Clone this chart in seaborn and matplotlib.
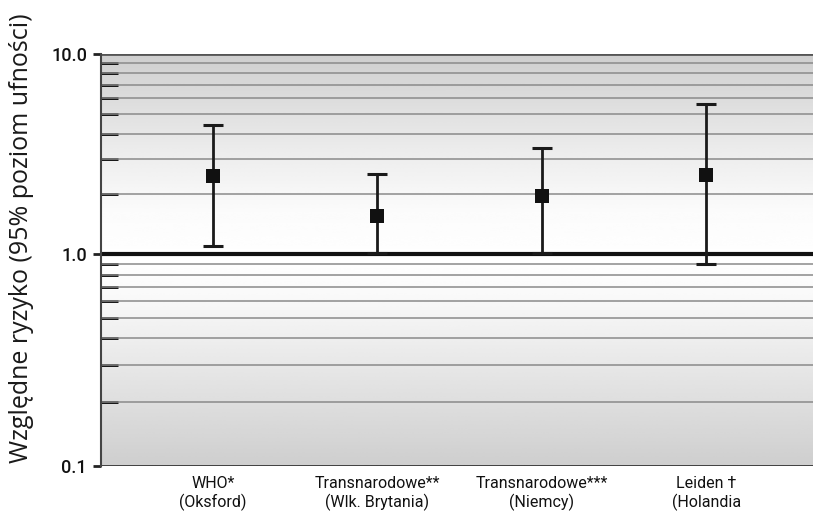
import numpy as np
import pandas as pd
import matplotlib
matplotlib.use("Agg")
import matplotlib.pyplot as plt
import matplotlib.ticker as mticker
import seaborn as sns

# ---- data ----
categories = ["WHO*\n(Oksford)", "Transnarodowe**\n(Wlk. Brytania)",
              "Transnarodowe***\n(Niemcy)", "Leiden \u2020\n(Holandia"]
rr = [2.45, 1.55, 1.95, 2.48]
ci_low = [1.10, 1.01, 1.01, 0.90]
ci_high = [4.40, 2.50, 3.40, 5.60]
y_ticks = [0.1, 1.0, 10.0]
y_ticklabels = ["0.1", "1.0", "10.0"]
y_label = "Względne ryzyko (95% poziom ufności)"

sns.set_theme(style="white")
plt.rcParams['font.family'] = ['Open Sans', 'DejaVu Sans']

fig = plt.figure(figsize=(8.13, 5.17), dpi=100)
ax = fig.add_axes([101/813, 51/517, 712/813, 412/517])

df = pd.DataFrame({"cat": categories, "rr": rr})

# log-type scale (upper decade drawn slightly shorter than lower one, as in the source)
K = 200.0 / 212.0
def fwd(v):
    l = np.log10(np.clip(v, 1e-6, None))
    return np.where(l > 0, l * K, l)
def inv(u):
    u = np.asarray(u, dtype=float)
    return np.where(u > 0, 10 ** (u / K), 10 ** u)
ax.set_yscale('function', functions=(fwd, inv))
ax.set_ylim(0.1, 10)

# gradient background
stops = [(0.0, 0.81), (0.25, 0.91), (0.42, 0.98), (0.5, 1.0), (0.62, 0.985), (0.78, 0.92), (1.0, 0.81)]
fr = np.linspace(0, 1, 400)
vals = np.interp(fr, [s[0] for s in stops], [s[1] for s in stops])
grad = np.repeat(vals[:, None], 2, axis=1)
ax.imshow(grad, extent=[0, 1, 0, 1], transform=ax.transAxes, aspect='auto',
          cmap='gray', vmin=0, vmax=1, origin='lower', zorder=0, interpolation='bicubic')

# grid lines
minor_vals = [m * d for d in (0.1, 1.0) for m in range(2, 10)]
for v in minor_vals:
    ax.axhline(v, color='#8a8a8a', lw=1.1, zorder=1)
ax.axhline(10, color='#555555', lw=2, zorder=2)
ax.axhline(0.1, color='#333333', lw=2, zorder=2)
ax.axhline(1.0, color='#111111', lw=3, zorder=2)

# error bars
x = np.arange(len(categories))
yerr = [np.array(rr) - np.array(ci_low), np.array(ci_high) - np.array(rr)]
ax.errorbar(x, rr, yerr=yerr, fmt='none', ecolor='#1a1a1a', elinewidth=2.0,
            capsize=7, capthick=2.2, zorder=3)
sns.scatterplot(data=df, x="cat", y="rr", marker='s', s=95, color='#111111',
                edgecolor='#111111', linewidth=0, ax=ax, zorder=4)

ax.set_xlim(-0.68, 3.65)
ax.set_ylim(0.1, 10)
ax.set_xlabel("")
ax.set_xticks(x)
ax.set_xticklabels(categories, family=['Roboto', 'DejaVu Sans'],
                   fontsize=11.5, color='#111111', linespacing=1.2)
ax.tick_params(axis='x', length=0, pad=7)

ax.yaxis.set_major_locator(mticker.FixedLocator(y_ticks))
ax.yaxis.set_major_formatter(mticker.FixedFormatter(y_ticklabels))
ax.yaxis.set_minor_locator(mticker.FixedLocator(minor_vals))
ax.yaxis.set_minor_formatter(mticker.NullFormatter())
ax.tick_params(axis='y', which='major', direction='out', length=6, width=2,
               color='#222222', left=True, pad=4, labelcolor='#111111')
ax.tick_params(axis='y', which='minor', direction='in', length=12.5, width=2,
               color='#000000', left=True)
for lbl in ax.get_yticklabels():
    lbl.set_family(['Roboto', 'DejaVu Sans'])
    lbl.set_fontweight('medium')
    lbl.set_fontsize(13)

ax.set_ylabel(y_label, fontsize=18, color='#1a1a1a')
ax.yaxis.set_label_coords(-(101 - 34) / 712, (466 - 238) / 412)

for s in ['top', 'right', 'bottom']:
    ax.spines[s].set_visible(False)
ax.spines['left'].set_color('#444444')
ax.spines['left'].set_linewidth(1.5)
ax.spines['left'].set_zorder(5)

fig.savefig("out.png", dpi=100)
